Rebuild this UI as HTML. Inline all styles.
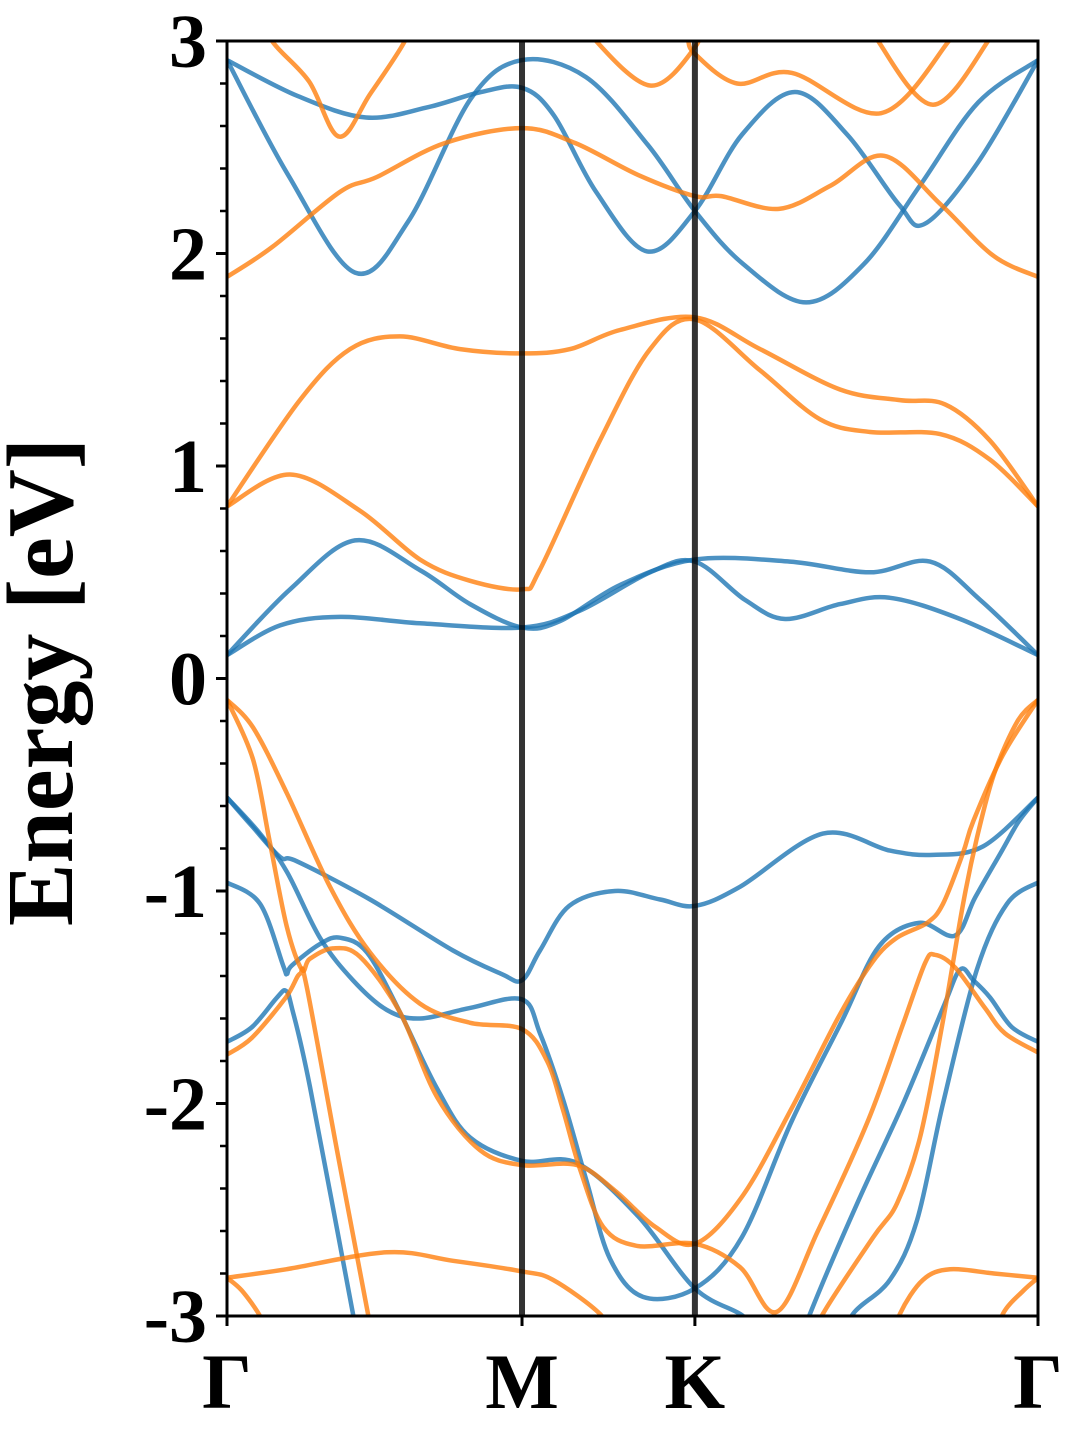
<!DOCTYPE html>
<html><head><meta charset="utf-8"><style>
html,body{margin:0;padding:0;background:#fff;}
svg{display:block;font-family:"Liberation Serif",serif;font-weight:bold;}
</style></head><body>
<svg id="chart" width="1080" height="1440" viewBox="0 0 1080 1440" xmlns="http://www.w3.org/2000/svg">
<defs><clipPath id="plotclip"><rect x="227" y="41" width="811" height="1275"/></clipPath></defs>
<rect x="0" y="0" width="1080" height="1440" fill="#fff"/>
<g id="bands" clip-path="url(#plotclip)"></g>
<g id="vlines"></g>
<rect x="227" y="41" width="811" height="1275" fill="none" stroke="#000" stroke-width="3"/>
<g id="axes"></g>
<text x="72" y="682" text-anchor="middle" font-size="94" transform="rotate(-90 72 682)">Energy [eV]</text>
</svg>
<script>
const kTicks = [0, 1, 1.586, 2.749];
const kLabels = ["Γ", "M", "K", "Γ"];
const yTicks = [3, 2, 1, 0, -1, -2, -3];
const yTickLabels = ["3", "2", "1", "0", "-1", "-2", "-3"];

const blueBands = [
 [[0,2.91],[0.207,2.37],[0.434,1.91],[0.614,2.15],[0.827,2.73],[1,2.91],[1.217,2.83],[1.427,2.51],[1.586,2.20],[1.75,1.95],[1.963,1.77],[2.159,1.95],[2.349,2.32],[2.546,2.71],[2.749,2.91]],
 [[0,2.91],[0.241,2.74],[0.471,2.64],[0.685,2.69],[0.861,2.76],[1,2.78],[1.108,2.65],[1.251,2.29],[1.424,2.01],[1.586,2.20],[1.746,2.56],[1.925,2.76],[2.102,2.56],[2.278,2.23],[2.366,2.14],[2.546,2.43],[2.749,2.91]],
 [[0,0.11],[0.214,0.42],[0.434,0.65],[0.654,0.51],[0.824,0.35],[1,0.24],[1.129,0.27],[1.332,0.44],[1.586,0.56],[1.908,0.55],[2.18,0.50],[2.383,0.55],[2.553,0.37],[2.749,0.11]],
 [[0,0.11],[0.18,0.25],[0.383,0.29],[0.654,0.26],[1,0.24],[1.197,0.32],[1.434,0.50],[1.586,0.55],[1.756,0.37],[1.892,0.28],[2.078,0.35],[2.247,0.38],[2.485,0.28],[2.749,0.11]],
 [[0,-0.56],[0.088,-0.70],[0.18,-0.84],[0.237,-0.86],[0.485,-1.04],[0.766,-1.28],[0.93,-1.39],[1,-1.42],[1.061,-1.28],[1.16,-1.07],[1.315,-1.0],[1.468,-1.04],[1.586,-1.07],[1.739,-0.98],[2.02,-0.73],[2.247,-0.81],[2.393,-0.83],[2.563,-0.79],[2.749,-0.56]],
 [[0,-0.56],[0.112,-0.73],[0.203,-0.91],[0.315,-1.22],[0.427,-1.42],[0.542,-1.56],[0.654,-1.60],[0.824,-1.55],[1,-1.51],[1.061,-1.67],[1.139,-1.98],[1.22,-2.37],[1.298,-2.73],[1.41,-2.91],[1.586,-2.87],[1.745,-2.63],[1.915,-2.08],[2.085,-1.61],[2.21,-1.26],[2.346,-1.15],[2.468,-1.21],[2.536,-1.03],[2.627,-0.81],[2.685,-0.67],[2.749,-0.56]],
 [[0,-0.96],[0.112,-1.06],[0.19,-1.35],[0.203,-1.39],[0.22,-1.35],[0.315,-1.25],[0.383,-1.22],[0.475,-1.29],[0.586,-1.57],[0.712,-1.93],[0.824,-2.16],[1,-2.27],[1.186,-2.28],[1.393,-2.53],[1.586,-2.87],[1.749,-3.0],[1.78,-3.1]],
 [[0,-1.71],[0.085,-1.64],[0.17,-1.5],[0.2,-1.47],[0.22,-1.55],[0.281,-1.92],[0.427,-2.99],[0.46,-3.2]],
 [[1.94,-3.15],[1.976,-2.99],[2.136,-2.47],[2.292,-2.0],[2.427,-1.55],[2.485,-1.37],[2.53,-1.42],[2.586,-1.50],[2.66,-1.64],[2.749,-1.71]],
 [[2.08,-3.15],[2.122,-2.99],[2.247,-2.83],[2.339,-2.55],[2.427,-2.0],[2.542,-1.37],[2.644,-1.06],[2.749,-0.96]]
];
const orangeBands = [
 [[0,1.89],[0.153,2.03],[0.383,2.29],[0.508,2.36],[0.739,2.52],[1,2.59],[1.18,2.52],[1.393,2.37],[1.586,2.27],[1.675,2.27],[1.871,2.21],[2.047,2.32],[2.227,2.46],[2.42,2.23],[2.597,1.99],[2.749,1.89]],
 [[0.12,3.15],[0.153,3.0],[0.278,2.81],[0.38,2.55],[0.485,2.75],[0.603,3.0],[0.64,3.15]],
 [[1.2,3.15],[1.251,3.0],[1.437,2.79],[1.586,2.97],[1.63,3.15]],
 [[1.53,3.15],[1.56,3.02],[1.586,2.94],[1.729,2.80],[1.915,2.85],[2.217,2.66],[2.447,3.0],[2.48,3.1]],
 [[2.17,3.15],[2.207,3.0],[2.393,2.70],[2.58,3.0],[2.62,3.15]],
 [[0,0.81],[0.214,0.96],[0.45,0.79],[0.654,0.56],[0.824,0.46],[1,0.42],[1.06,0.51],[1.264,1.12],[1.434,1.55],[1.586,1.69],[1.807,1.45],[2.01,1.22],[2.18,1.16],[2.417,1.15],[2.586,1.03],[2.749,0.81]],
 [[0,0.81],[0.247,1.31],[0.417,1.55],[0.586,1.61],[0.79,1.55],[1,1.53],[1.163,1.55],[1.332,1.64],[1.586,1.70],[1.807,1.55],[2.078,1.36],[2.281,1.31],[2.434,1.29],[2.586,1.12],[2.749,0.81]],
 [[0,-0.1],[0.088,-0.38],[0.145,-0.77],[0.203,-1.17],[0.254,-1.37],[0.28,-1.32],[0.359,-1.27],[0.451,-1.31],[0.586,-1.57],[0.712,-1.97],[0.858,-2.22],[1,-2.29],[1.186,-2.29],[1.315,-2.41],[1.451,-2.58],[1.586,-2.66],[1.745,-2.44],[1.915,-2.02],[2.078,-1.58],[2.19,-1.33],[2.271,-1.22],[2.373,-1.15],[2.427,-1.06],[2.495,-0.82],[2.53,-0.67],[2.63,-0.36],[2.749,-0.1]],
 [[0,-0.1],[0.088,-0.23],[0.203,-0.54],[0.349,-0.98],[0.485,-1.29],[0.654,-1.53],[0.824,-1.62],[1,-1.65],[1.085,-1.80],[1.139,-2.03],[1.197,-2.31],[1.275,-2.58],[1.39,-2.67],[1.586,-2.66],[1.739,-2.77],[1.864,-2.98],[2.003,-2.60],[2.173,-2.08],[2.288,-1.64],[2.366,-1.34],[2.4,-1.30],[2.468,-1.36],[2.569,-1.55],[2.637,-1.67],[2.749,-1.76]],
 [[0,-1.77],[0.085,-1.69],[0.2,-1.5],[0.247,-1.39],[0.27,-1.45],[0.373,-2.22],[0.478,-2.99],[0.51,-3.2]],
 [[1.98,-3.15],[2.02,-2.99],[2.19,-2.63],[2.271,-2.47],[2.349,-2.16],[2.427,-1.61],[2.495,-1.06],[2.542,-0.75],[2.60,-0.45],[2.68,-0.2],[2.749,-0.1]],
 [[0,-2.82],[0.2,-2.78],[0.542,-2.70],[0.766,-2.74],[1,-2.79],[1.105,-2.83],[1.264,-2.99],[1.3,-3.1]],
 [[0,-2.82],[0.05,-2.88],[0.112,-3.0],[0.14,-3.1]],
 [[2.25,-3.15],[2.281,-2.99],[2.359,-2.83],[2.451,-2.78],[2.6,-2.80],[2.749,-2.82]],
 [[2.6,-3.15],[2.63,-2.99],[2.70,-2.88],[2.749,-2.82]]
];

const X0 = 227, X1 = 1038, Y0 = 41, Y1 = 1316, EMAX = 3, EMIN = -3;
function xScale(k){ return X0 + (k - kTicks[0]) / (kTicks[kTicks.length-1] - kTicks[0]) * (X1 - X0); }
function yScale(e){ return Y0 + (EMAX - e) / (EMAX - EMIN) * (Y1 - Y0); }
const NS = "http://www.w3.org/2000/svg";

function pathFor(band){
  const p = band.map(d => [xScale(d[0]), yScale(d[1])]);
  let s = "M" + p[0][0].toFixed(1) + "," + p[0][1].toFixed(1);
  for (let i = 0; i < p.length - 1; i++){
    const a = p[i-1] || p[i], b = p[i], c = p[i+1], d = p[i+2] || p[i+1];
    const c1x = b[0] + (c[0]-a[0])/6, c1y = b[1] + (c[1]-a[1])/6;
    const c2x = c[0] - (d[0]-b[0])/6, c2y = c[1] - (d[1]-b[1])/6;
    s += " C" + c1x.toFixed(1)+","+c1y.toFixed(1)+" "+c2x.toFixed(1)+","+c2y.toFixed(1)+" "+c[0].toFixed(1)+","+c[1].toFixed(1);
  }
  return s;
}
const gB = document.getElementById("bands");
function drawBands(list, color, nm){
  list.forEach((band, i) => {
    const el = document.createElementNS(NS, "path");
    el.setAttribute("d", pathFor(band));
    el.setAttribute("fill", "none");
    el.setAttribute("stroke", color);
    el.setAttribute("stroke-opacity", "0.8");
    el.setAttribute("stroke-width", "4.5");
    el.setAttribute("stroke-linejoin", "round");
    
    
    gB.appendChild(el);
  });
}
drawBands(blueBands, "#1f77b4", "blue");
drawBands(orangeBands, "#ff7f0e", "orange");

const gV = document.getElementById("vlines");
kTicks.slice(1, -1).forEach((k, i) => {
  const l = document.createElementNS(NS, "line");
  l.setAttribute("x1", xScale(k)); l.setAttribute("x2", xScale(k));
  l.setAttribute("y1", Y0); l.setAttribute("y2", Y1);
  l.setAttribute("stroke", "#000"); l.setAttribute("stroke-opacity", "0.8"); l.setAttribute("stroke-width", "6");
  
  
  gV.appendChild(l);
});

const gA = document.getElementById("axes");
function line(x1,y1,x2,y2,w){
  const l = document.createElementNS(NS, "line");
  l.setAttribute("x1",x1); l.setAttribute("y1",y1); l.setAttribute("x2",x2); l.setAttribute("y2",y2);
  l.setAttribute("stroke","#000"); l.setAttribute("stroke-width",w);
  return l;
}
for (let e = -3; e <= 3.001; e += 0.2){
  const major = Math.abs(e - Math.round(e)) < 1e-6;
  const t = line(X0 - (major ? 11 : 7), yScale(e), X0, yScale(e), major ? 3 : 2.5);
  
  
  gA.appendChild(t);
}
yTicks.forEach((v, i) => {
  const t = document.createElementNS(NS, "text");
  t.setAttribute("x", 207); t.setAttribute("y", yScale(v) + 26);
  t.setAttribute("text-anchor", "end"); t.setAttribute("font-size", "76");
  t.textContent = yTickLabels[i];
  
  
  gA.appendChild(t);
});
kTicks.forEach((k, i) => {
  const tk = line(xScale(k), Y1, xScale(k), Y1 + 10, 3);
  
  
  gA.appendChild(tk);
  const t = document.createElementNS(NS, "text");
  t.setAttribute("x", xScale(k)); t.setAttribute("y", 1408);
  t.setAttribute("text-anchor", "middle"); t.setAttribute("font-size", "78");
  t.textContent = kLabels[i];
  
  
  gA.appendChild(t);
});
</script>
</body></html>
